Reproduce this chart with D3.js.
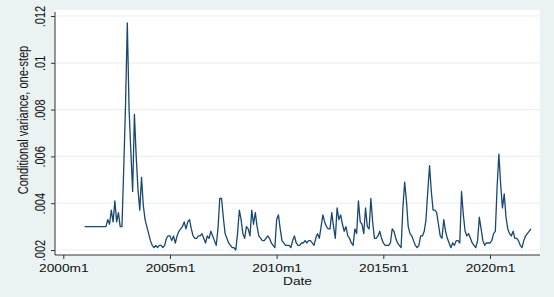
<!DOCTYPE html>
<html><head><meta charset="utf-8">
<script src="https://cdn.jsdelivr.net/npm/d3@7"></script>
<style>html,body{margin:0;padding:0;background:#eaf2f3;} svg{display:block;}</style>
</head><body>
<svg id="chart" width="554" height="297"></svg>
<script>
// ---- data ----
const startMonth = "2001m1";
const condVar = [
  0.0030,0.0030,0.0030,0.0030,0.0030,0.0030,0.0030,0.0030,0.0030,0.0030,0.0030,0.0030,0.0030,
  0.0033,0.0031,0.0037,0.0032,0.0041,0.0032,0.0036,0.0030,0.0030,
  0.0055,0.0082,0.0117,0.0080,0.0062,0.0045,0.0078,0.0060,0.0046,0.0037,0.0051,0.0039,0.0033,0.0030,0.0027,0.0024,
  0.0022,0.0021,0.0022,0.0021,0.0022,0.0022,0.0021,0.0022,0.0025,0.0026,
  0.0026,0.0024,0.0026,0.0023,0.0026,0.0028,0.0029,0.0030,0.0032,0.0029,
  0.0032,0.0033,0.0029,0.0026,0.0025,0.0025,0.0026,0.0026,0.0027,0.0025,
  0.0023,0.0026,0.0025,0.0028,0.0026,0.0024,0.0022,0.0029,0.0042,0.0042,
  0.0034,0.0027,0.0025,0.0023,0.0022,0.0021,0.0021,0.0020,0.0027,0.0037,
  0.0033,0.0027,0.0025,0.0030,0.0029,0.0026,0.0037,0.0031,0.0036,0.0030,
  0.0026,0.0025,0.0024,0.0024,0.0025,0.0026,0.0025,0.0023,0.0022,0.0021,
  0.0033,0.0035,0.0029,0.0024,0.0023,0.0022,0.0022,0.0022,0.0021,0.0024,
  0.0026,0.0023,0.0022,0.0022,0.0023,0.0023,0.0024,0.0023,0.0024,0.0024,
  0.0023,0.0022,0.0025,0.0027,0.0025,0.0030,0.0035,0.0032,0.0030,0.0029,
  0.0029,0.0036,0.0030,0.0025,0.0038,0.0033,0.0035,0.0031,0.0028,0.0030,
  0.0026,0.0025,0.0023,0.0022,0.0029,0.0027,0.0041,0.0032,0.0031,0.0027,
  0.0038,0.0030,0.0029,0.0042,0.0032,0.0025,0.0025,0.0026,0.0028,0.0025,
  0.0023,0.0022,0.0022,0.0022,0.0023,0.0029,0.0028,0.0025,0.0023,0.0022,
  0.0021,0.0038,0.0049,0.0041,0.0030,0.0027,0.0026,0.0024,0.0022,0.0021,
  0.0022,0.0026,0.0026,0.0028,0.0033,0.0045,0.0056,0.0045,0.0037,0.0037,
  0.0036,0.0031,0.0026,0.0025,0.0033,0.0028,0.0025,0.0023,0.0021,0.0023,
  0.0022,0.0024,0.0024,0.0023,0.0045,0.0035,0.0028,0.0026,0.0027,0.0025,
  0.0023,0.0022,0.0021,0.0024,0.0034,0.0029,0.0024,0.0022,0.0023,0.0023,
  0.0023,0.0024,0.0027,0.0028,0.0047,0.0061,0.0048,0.0038,0.0044,0.0034,
  0.0029,0.0027,0.0026,0.0028,0.0025,0.0025,0.0024,0.0022,0.0021,0.0024,
  0.0026,0.0027,0.0028,0.0029
];
const yTicks = [0.002, 0.004, 0.006, 0.008, 0.010, 0.012];
const yTickLabels = [".002", ".004", ".006", ".008", ".01", ".012"];
const xTickLabels = ["2000m1", "2005m1", "2010m1", "2015m1", "2020m1"];
const xTitle = "Date";
const yTitle = "Conditional variance, one-step";

// ---- helpers ----
function monthIndex(s) { const p = s.split("m").map(Number); return (p[0] - 2000) * 12 + (p[1] - 1); }
const start = monthIndex(startMonth);
const data = condVar.map((v, i) => ({ t: start + i, v: v }));
const xTickVals = xTickLabels.map(monthIndex);

const W = 554, H = 297;
const P = { left: 55, right: 540, top: 10, bottom: 255 };
const FONT = "'Liberation Sans', Arial, Helvetica, sans-serif";
const SX = 1.25; // horizontal stretch of the reference image

const svg = d3.select("#chart");
svg.append("rect").attr("width", W).attr("height", H).attr("fill", "#eaf2f3");
svg.append("rect").attr("x", P.left).attr("y", P.top)
  .attr("width", P.right - P.left).attr("height", P.bottom - P.top).attr("fill", "#ffffff");

const x = d3.scaleLinear().domain([0, 240]).range([63.3, 490]);
const y = d3.scaleLinear().domain([0.002, 0.012]).range([250, 16]);

// gridlines
svg.append("g").selectAll("line").data(yTicks).join("line")
  .attr("x1", P.left + 1).attr("x2", P.right)
  .attr("y1", d => y(d)).attr("y2", d => y(d))
  .attr("stroke", "#eaf2f3").attr("stroke-width", 1.2);

// series
const line = d3.line().x(d => x(d.t)).y(d => y(d.v));
svg.append("path").datum(data).attr("d", line)
  .attr("fill", "none").attr("stroke", "#1a476f")
  .attr("stroke-width", 1.3).attr("stroke-linejoin", "round");

// y axis
const gy = svg.append("g").attr("transform", `translate(${P.left},0)`)
  .call(d3.axisLeft(y).tickValues(yTicks).tickFormat((d, i) => yTickLabels[i]).tickSize(4));
gy.select(".domain").remove();
gy.selectAll(".tick line").attr("stroke", "#333");
gy.selectAll(".tick text")
  .attr("x", 0).attr("dy", 0).attr("text-anchor", "middle")
  .attr("transform", `translate(-10,0) scale(${SX},1) rotate(-90)`)
  .attr("font-family", FONT).attr("font-size", 11).attr("fill", "#111");
svg.append("line").attr("x1", P.left).attr("x2", P.left).attr("y1", 12).attr("y2", P.bottom)
  .attr("stroke", "#333").attr("stroke-width", 1);

// x axis
const gx = svg.append("g").attr("transform", `translate(0,${P.bottom})`)
  .call(d3.axisBottom(x).tickValues(xTickVals).tickFormat((d, i) => xTickLabels[i]).tickSize(4));
gx.select(".domain").remove();
gx.selectAll(".tick line").attr("stroke", "#333");
gx.selectAll(".tick text")
  .attr("y", 0).attr("dy", 0).attr("text-anchor", "middle")
  .attr("transform", `translate(0,16.5) scale(${SX},1)`)
  .attr("font-family", FONT).attr("font-size", 11).attr("fill", "#111");
svg.append("line").attr("x1", P.left).attr("x2", P.right).attr("y1", P.bottom).attr("y2", P.bottom)
  .attr("stroke", "#333").attr("stroke-width", 1);

// titles
svg.append("text").text(xTitle)
  .attr("transform", `translate(${(P.left + P.right) / 2},285) scale(${SX},1)`)
  .attr("text-anchor", "middle").attr("font-family", FONT).attr("font-size", 11).attr("fill", "#111");
svg.append("text").text(yTitle)
  .attr("transform", `translate(28,120) scale(${SX},1) rotate(-90)`)
  .attr("text-anchor", "middle").attr("font-family", FONT).attr("font-size", 11).attr("fill", "#111");
</script>
</body></html>
